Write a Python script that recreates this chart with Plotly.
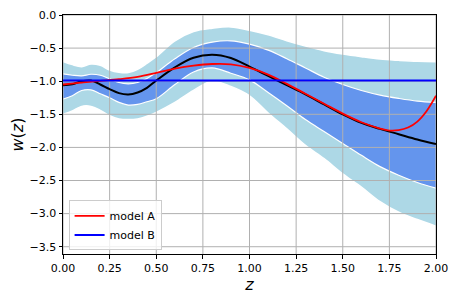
import plotly.graph_objects as go

# ---- data ----
z = [0, 0.05, 0.1, 0.15, 0.2, 0.25, 0.3, 0.35, 0.4, 0.45, 0.5, 0.6, 0.7, 0.8,
     0.9, 1.0, 1.1, 1.2, 1.3, 1.4, 1.5, 1.6, 1.7, 1.8, 1.9, 2.0]
w_mean = [-1.06, -1.045, -1.0, -0.99, -1.05, -1.12, -1.18, -1.2, -1.17, -1.1, -0.99,
          -0.79, -0.645, -0.6, -0.65, -0.78, -0.92, -1.06, -1.2, -1.35, -1.5,
          -1.63, -1.72, -1.8, -1.88, -1.95]
w_1sig_up = [-0.89, -0.91, -0.92, -0.895, -0.91, -0.965, -1.02, -1.04, -1.02, -0.96,
             -0.87, -0.66, -0.49, -0.41, -0.39, -0.44, -0.53, -0.66, -0.8, -0.94,
             -1.05, -1.14, -1.21, -1.26, -1.3, -1.32]
w_1sig_lo = [-1.27, -1.22, -1.14, -1.13, -1.19, -1.25, -1.32, -1.36, -1.35, -1.31,
             -1.265, -1.05, -0.86, -0.8, -0.88, -0.98, -1.17, -1.37, -1.58, -1.76,
             -1.94, -2.12, -2.29, -2.42, -2.53, -2.615]
w_2sig_up = [-0.7, -0.75, -0.78, -0.74, -0.76, -0.83, -0.865, -0.87, -0.82, -0.73,
             -0.63, -0.39, -0.25, -0.2, -0.18, -0.23, -0.3, -0.39, -0.47, -0.54,
             -0.59, -0.63, -0.665, -0.685, -0.7, -0.705]
w_2sig_lo = [-1.5, -1.45, -1.38, -1.38, -1.44, -1.52, -1.57, -1.58, -1.57, -1.53,
             -1.47, -1.32, -1.14, -1.0, -1.08, -1.22, -1.48, -1.72, -1.97, -2.17,
             -2.4, -2.6, -2.82, -2.98, -3.09, -3.19]

z_a = [0, 0.1, 0.2, 0.3, 0.4, 0.5, 0.6, 0.7, 0.8, 0.9, 1.0, 1.1, 1.2, 1.3, 1.4,
       1.5, 1.6, 1.7, 1.75, 1.8, 1.85, 1.9, 1.95, 2.0]
w_a = [-1.05, -1.02, -0.995, -0.97, -0.935, -0.875, -0.81, -0.765, -0.74, -0.745,
       -0.8, -0.9, -1.04, -1.19, -1.34, -1.49, -1.62, -1.715, -1.745, -1.74, -1.7,
       -1.61, -1.45, -1.22]

z_b = [0, 2.0]
w_b = [-0.99, -0.99]

x_ticks = [0, 0.25, 0.5, 0.75, 1.0, 1.25, 1.5, 1.75, 2.0]
x_ticklabels = ["0.00", "0.25", "0.50", "0.75", "1.00", "1.25", "1.50", "1.75", "2.00"]
y_ticks = [0.0, -0.5, -1.0, -1.5, -2.0, -2.5, -3.0, -3.5]
y_ticklabels = ["0.0", "\u22120.5", "\u22121.0", "\u22121.5", "\u22122.0",
                "\u22122.5", "\u22123.0", "\u22123.5"]

X_RANGE = [0, 2.0]
Y_RANGE = [-3.61, 0.0]

fig = go.Figure()

# outer band
fig.add_trace(go.Scatter(x=z, y=w_2sig_lo, mode="lines", line=dict(color="white", width=1.5, shape="spline"),
                         showlegend=False, hoverinfo="skip"))
fig.add_trace(go.Scatter(x=z, y=w_2sig_up, mode="lines", line=dict(color="white", width=1.5, shape="spline"),
                         fill="tonexty", fillcolor="#ADD8E6", showlegend=False, hoverinfo="skip"))
# inner band
fig.add_trace(go.Scatter(x=z, y=w_1sig_lo, mode="lines", line=dict(color="white", width=1.2, shape="spline"),
                         showlegend=False, hoverinfo="skip"))
fig.add_trace(go.Scatter(x=z, y=w_1sig_up, mode="lines", line=dict(color="white", width=1.2, shape="spline"),
                         fill="tonexty", fillcolor="#6495ED", showlegend=False, hoverinfo="skip"))

# grid drawn above the bands (as in the reference)
for xv in x_ticks:
    fig.add_trace(go.Scatter(x=[xv, xv], y=Y_RANGE, mode="lines", line=dict(color="#b0b0b0", width=1),
                             showlegend=False, hoverinfo="skip"))
for yv in y_ticks:
    fig.add_trace(go.Scatter(x=X_RANGE, y=[yv, yv], mode="lines", line=dict(color="#b0b0b0", width=1),
                             showlegend=False, hoverinfo="skip"))

fig.add_trace(go.Scatter(x=z, y=w_mean, mode="lines", line=dict(color="black", width=2, shape="spline"),
                         showlegend=False, hoverinfo="skip"))
fig.add_trace(go.Scatter(x=z_a, y=w_a, mode="lines", line=dict(color="red", width=1.8, shape="spline"),
                         name="model A"))
fig.add_trace(go.Scatter(x=z_b, y=w_b, mode="lines", line=dict(color="blue", width=2),
                         name="model B"))

axis_common = dict(showline=True, linecolor="black", linewidth=1, mirror=True, showgrid=False,
                   zeroline=False, ticks="outside", ticklen=3.5, tickwidth=1, tickcolor="black",
                   automargin=False, ticklabeloverflow="allow",
                   tickfont=dict(family="DejaVu Sans", size=11, color="black"))

fig.update_xaxes(range=X_RANGE, tickvals=x_ticks, ticktext=x_ticklabels,
                 title=dict(text="<i>z</i>", font=dict(family="DejaVu Sans", size=16, color="black"), standoff=4),
                 **axis_common)
fig.update_yaxes(range=Y_RANGE, tickvals=y_ticks, ticktext=y_ticklabels,
                 title=dict(text="<i>w</i>(<i>z</i>)", font=dict(family="DejaVu Sans", size=16, color="black"), standoff=6),
                 **axis_common)

# the page body adds an 8px offset; margins compensate so the plot area lands where the reference has it
fig.update_layout(
    width=457, height=302,
    margin=dict(l=55, r=29, t=7, b=56, autoexpand=False),
    paper_bgcolor="white", plot_bgcolor="white",
    legend=dict(x=0.015, y=0.015, xanchor="left", yanchor="bottom",
                bgcolor="rgba(255,255,255,0.8)", bordercolor="#cccccc", borderwidth=1,
                font=dict(family="DejaVu Sans", size=11, color="black"),
                traceorder="normal", tracegroupgap=0, itemwidth=30),
    showlegend=True,
)

fig.write_html("out.html")
